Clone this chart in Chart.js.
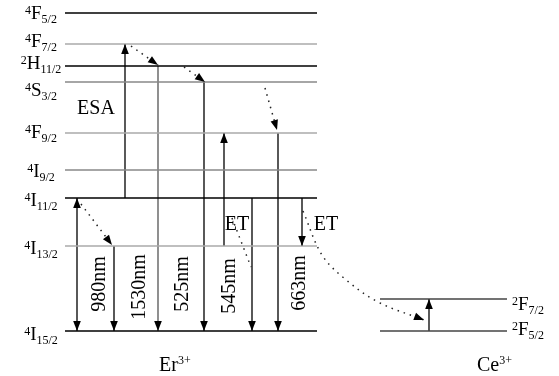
<!DOCTYPE html>
<html>
<head>
<meta charset="utf-8">
<script src="https://cdn.jsdelivr.net/npm/chart.js@4/dist/chart.umd.min.js"></script>
<style>
  html, body { margin: 0; padding: 0; background: #fff; }
  #wrap { width: 559px; height: 376px; }
</style>
</head>
<body>
<div id="wrap"><canvas id="levels"></canvas></div>
<script>
// Er3+ manifolds, top to bottom (energy in diagram units above the ground state)
const erMult   = ['4', '4', '2', '4', '4', '4', '4', '4', '4'];
const erTerm   = ['F', 'F', 'H', 'S', 'F', 'I', 'I', 'I', 'I'];
const erJ      = ['5/2', '7/2', '11/2', '3/2', '9/2', '9/2', '11/2', '13/2', '15/2'];
const erEnergy = [318, 287, 265, 249, 198, 161, 133, 85, 0];

// Ce3+ manifolds
const ceMult   = ['2', '2'];
const ceTerm   = ['F', 'F'];
const ceJ      = ['7/2', '5/2'];
const ceEnergy = [32, 0];

// emission bands: upper -> lower manifold
const bandNames = ['980nm', '1530nm', '525nm', '545nm', '663nm'];
const bandFrom  = ['4I11/2', '4I13/2', '2H11/2', '4S3/2', '4F9/2'];
const bandTo    = ['4I15/2', '4I15/2', '4I15/2', '4I15/2', '4I15/2'];

// excited state absorption and Er-side energy transfer (upward)
const pumpNames = ['ESA', 'ET'];
const pumpFrom  = ['4I11/2', '4I13/2'];
const pumpTo    = ['4F7/2', '4F9/2'];

// Er donor steps (downward) and the Ce acceptor step
const donorFrom = ['4I11/2', '4I11/2'];
const donorTo   = ['4I15/2', '4I13/2'];
const ceFrom = '2F5/2';
const ceTo   = '2F7/2';

// non-radiative relaxation
const relaxFrom = ['4F7/2', '2H11/2', '4S3/2', '4I11/2'];
const relaxTo   = ['2H11/2', '4S3/2', '4F9/2', '4I13/2'];

// ---- layout / style ----
const erSpan = [65, 317];
const ceSpan = [380, 507];
const erLineColor = ['#000', '#aaa', '#000', '#888', '#aaa', '#888', '#000', '#aaa', '#000'];
const erLabelX = 41;
const erLabelDy = [6, 3, 3, 14, 5, 7, 8, 8, 9];
const ceLabelX = 512;
const ceLabelDy = [11, 4];
const bandX = [77, 114, 158, 204, 278];
const bandBaseX = [105, 145, 188, 235, 305];
const bandMidY = [284, 287, 284, 286, 283];
const bandColor = ['#000', '#000', '#555', '#000', '#000'];
const pumpX = [125, 224];
const donorX = [252, 302];
const ceX = 429;
const relaxX = [[131, 158], [184, 205], [265, 277], [81, 112]];
const relaxDy = [[-2, 1], [-1, 0], [-6, 3], [-6, 1]];
// cross relaxation trail and the transfer path towards Ce3+
const crossPath = [[232, 113], [251, 64]];
const transferPath = [[303, 120], [322, 76], [345, 52], [378, 29], [424, 11]];

const levelValue = {};
erMult.forEach((m, i) => { levelValue[m + erTerm[i] + erJ[i]] = erEnergy[i]; });
ceMult.forEach((m, i) => { levelValue[m + ceTerm[i] + ceJ[i]] = ceEnergy[i]; });
const E = key => levelValue[key];

function seg(points, style) {
  return Object.assign({
    type: 'line',
    data: points.map(p => ({ x: p[0], y: p[1] })),
    borderColor: '#000',
    borderWidth: 1.3,
    pointRadius: 0,
    fill: false,
    tension: 0
  }, style);
}

const datasets = [];
erEnergy.forEach((e, i) => {
  datasets.push(seg([[erSpan[0], e], [erSpan[1], e]], { borderColor: erLineColor[i], borderWidth: 1.5 }));
});
ceEnergy.forEach(e => {
  datasets.push(seg([[ceSpan[0], e], [ceSpan[1], e]], { borderColor: '#444', borderWidth: 1.3 }));
});
bandNames.forEach((n, i) => {
  const pts = [[bandX[i], E(bandFrom[i])], [bandX[i], E(bandTo[i])]];
  datasets.push(seg(pts, { borderColor: bandColor[i], head: i === 0 ? 'both' : 'end' }));
});
pumpNames.forEach((n, i) => {
  datasets.push(seg([[pumpX[i], E(pumpFrom[i])], [pumpX[i], E(pumpTo[i])]], { head: 'end' }));
});
donorFrom.forEach((f, i) => {
  datasets.push(seg([[donorX[i], E(f)], [donorX[i], E(donorTo[i])]], { head: 'end' }));
});
datasets.push(seg([[ceX, E(ceFrom)], [ceX, E(ceTo)]], { head: 'end' }));

const dotted = { borderDash: [1.5, 5], borderWidth: 1.5, borderColor: '#222' };
relaxFrom.forEach((f, i) => {
  const pts = [[relaxX[i][0], E(f) + relaxDy[i][0]], [relaxX[i][1], E(relaxTo[i]) + relaxDy[i][1]]];
  datasets.push(seg(pts, Object.assign({ head: 'end' }, dotted)));
});
datasets.push(seg(crossPath, dotted));
datasets.push(seg(transferPath, Object.assign({ head: 'end', tension: 0.35 }, dotted)));

const arrowHeads = {
  id: 'arrowHeads',
  afterDatasetsDraw(chart) {
    const ctx = chart.ctx;
    const draw = (tip, from) => {
      const a = Math.atan2(tip.y - from.y, tip.x - from.x);
      const len = 10, half = 3.8;
      ctx.save();
      ctx.translate(tip.x, tip.y);
      ctx.rotate(a);
      ctx.beginPath();
      ctx.moveTo(0, 0);
      ctx.lineTo(-len, -half);
      ctx.lineTo(-len, half);
      ctx.closePath();
      ctx.fillStyle = '#000';
      ctx.fill();
      ctx.restore();
    };
    chart.data.datasets.forEach((ds, i) => {
      if (!ds.head) return;
      const pts = chart.getDatasetMeta(i).data;
      const n = pts.length;
      draw(pts[n - 1], pts[n - 2]);
      if (ds.head === 'both') draw(pts[0], pts[1]);
    });
  }
};

const BIG = '19px "Liberation Serif", "Times New Roman", serif';
const SMALL = '12px "Liberation Serif", "Times New Roman", serif';
const TEXT = '20px "Liberation Serif", "Times New Roman", serif';
const SUP = '12px "Liberation Serif", "Times New Roman", serif';

function drawTerm(ctx, x, base, mult, term, j, align) {
  ctx.font = SMALL;
  const wm = ctx.measureText(mult).width;
  const wj = ctx.measureText(j).width;
  ctx.font = BIG;
  const wt = ctx.measureText(term).width;
  const x0 = align === 'center' ? x - (wm + wt + wj) / 2 : x;
  ctx.textAlign = 'left';
  ctx.textBaseline = 'alphabetic';
  ctx.font = SMALL;
  ctx.fillText(mult, x0, base - 5);
  ctx.font = BIG;
  ctx.fillText(term, x0 + wm, base);
  ctx.font = SMALL;
  ctx.fillText(j, x0 + wm + wt, base + 4);
}

function drawIon(ctx, x, base, sym, charge) {
  ctx.textAlign = 'left';
  ctx.textBaseline = 'alphabetic';
  ctx.font = TEXT;
  ctx.fillText(sym, x, base);
  const w = ctx.measureText(sym).width;
  ctx.font = SUP;
  ctx.fillText(charge, x + w, base - 7);
}

const labels = {
  id: 'labels',
  afterDraw(chart) {
    const ctx = chart.ctx;
    const ys = chart.scales.y;
    ctx.save();
    ctx.fillStyle = '#000';
    erEnergy.forEach((e, i) => {
      drawTerm(ctx, erLabelX, ys.getPixelForValue(e) + erLabelDy[i], erMult[i], erTerm[i], erJ[i], 'center');
    });
    ceEnergy.forEach((e, i) => {
      drawTerm(ctx, ceLabelX, ys.getPixelForValue(e) + ceLabelDy[i], ceMult[i], ceTerm[i], ceJ[i], 'left');
    });
    bandNames.forEach((n, i) => {
      ctx.save();
      ctx.translate(bandBaseX[i], bandMidY[i]);
      ctx.rotate(-Math.PI / 2);
      ctx.font = TEXT;
      ctx.textAlign = 'center';
      ctx.textBaseline = 'alphabetic';
      ctx.fillText(n, 0, 0);
      ctx.restore();
    });
    ctx.font = TEXT;
    ctx.textAlign = 'center';
    ctx.textBaseline = 'alphabetic';
    ctx.fillText(pumpNames[0], 96, 114);
    ctx.fillText(pumpNames[1], 237, 230);
    ctx.fillText('ET', 326, 230);
    drawIon(ctx, 159, 371, 'Er', '3+');
    drawIon(ctx, 477, 371, 'Ce', '3+');
    ctx.restore();
  }
};

new Chart(document.getElementById('levels'), {
  type: 'line',
  data: { datasets },
  options: {
    responsive: true,
    maintainAspectRatio: false,
    animation: false,
    events: [],
    layout: { padding: 0 },
    scales: {
      x: { type: 'linear', min: 0, max: 559, display: false },
      y: { type: 'linear', min: -45, max: 331, display: false }
    },
    plugins: { legend: { display: false }, tooltip: { enabled: false } }
  },
  plugins: [arrowHeads, labels]
});
</script>
</body>
</html>
